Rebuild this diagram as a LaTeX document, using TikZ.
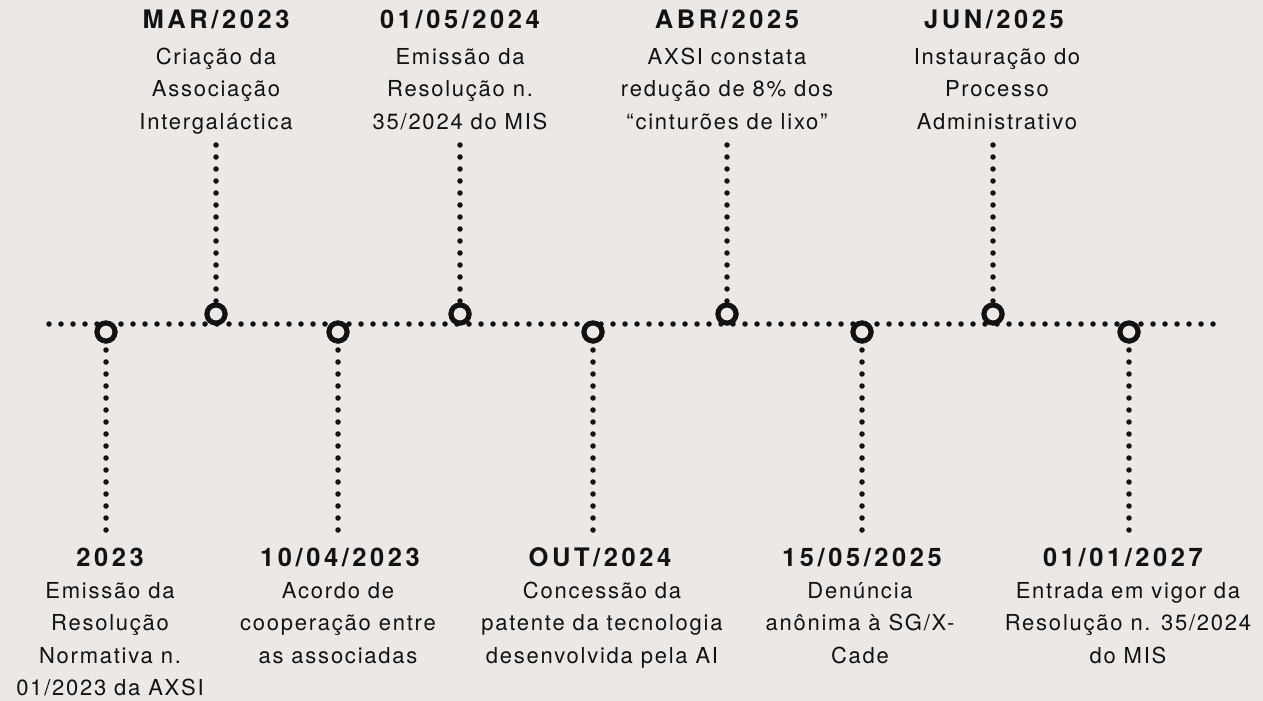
\documentclass[tikz,border=0pt]{standalone}
\usepackage{fontspec}
\setmainfont{TeX Gyre Heros}
\newfontfamily\titlefam[LetterSpace=14]{TeX Gyre Heros}
\newfontfamily\bodyfam[LetterSpace=8]{TeX Gyre Heros}
\definecolor{bg}{RGB}{235,232,230}
\definecolor{ink}{RGB}{18,18,18}
\begin{document}
\begin{tikzpicture}[x=1pt,y=-1pt,
  dotline/.style={draw=ink,line width=5.5pt,line cap=round,dash pattern=on 0pt off 12pt},
  ringnode/.style={circle,draw=ink,line width=5pt,fill=bg,minimum size=18pt,inner sep=0pt},
  titlenode/.style={anchor=base,inner sep=0pt,text=ink,font={\titlefam\bfseries\fontsize{25.5}{29}\selectfont}},
  bodynode/.style={anchor=north,inner sep=0pt,align=center,text=ink,font={\bodyfam\fontsize{22}{32.5}\selectfont}}]
\fill[bg] (0,0) rectangle (1263,701);
\useasboundingbox (0,0) rectangle (1263,701);
\newcommand{\bs}{\rule{0pt}{22pt}}
% main line
\coordinate (L) at (49,324);
\coordinate (R) at (1214,324);
\draw[dotline] (L) -- (R);
% end points of stems
\coordinate (e1) at (106,530);
\coordinate (e2) at (216,145);
\coordinate (e3) at (338,530);
\coordinate (e4) at (460,145);
\coordinate (e5) at (593,530);
\coordinate (e6) at (727,145);
\coordinate (e7) at (862,530);
\coordinate (e8) at (993,145);
\coordinate (e9) at (1129,530);
% circles
\node[ringnode] (c1) at (106,332) {};
\node[ringnode] (c2) at (216,314) {};
\node[ringnode] (c3) at (338,332) {};
\node[ringnode] (c4) at (460,314) {};
\node[ringnode] (c5) at (593,332) {};
\node[ringnode] (c6) at (727,314) {};
\node[ringnode] (c7) at (862,332) {};
\node[ringnode] (c8) at (993,314) {};
\node[ringnode] (c9) at (1129,332) {};
\foreach \i in {1,...,9} {\draw[dotline] (e\i) -- (c\i);}
\foreach \i in {1,...,9} {\node[ringnode] (r\i) at (c\i) {};}
% top labels
\node[titlenode] (t2) at (216,29) {MAR/2023};
\node[bodynode] (b2) at (216,42) {\bs Criação da\\Associação\\Intergaláctica};
\node[titlenode] (t4) at (460,29) {01/05/2024};
\node[bodynode] (b4) at (460,42) {\bs Emissão da\\Resolução n.\\35/2024 do MIS};
\node[titlenode] (t6) at (727,29) {ABR/2025};
\node[bodynode] (b6) at (727,42) {\bs AXSI constata\\redução de 8\% dos\\“cinturões de lixo”};
\node[titlenode] (t8) at (994,29) {JUN/2025};
\node[bodynode] (b8) at (997,42) {\bs Instauração do\\Processo\\Administrativo};
% bottom labels
\node[titlenode] (t1) at (110,566) {2023};
\node[bodynode] (b1) at (110,576) {\bs Emissão da\\Resolução\\Normativa n.\\01/2023 da AXSI};
\node[titlenode] (t3) at (340,566) {10/04/2023};
\node[bodynode] (b3) at (338,576) {\bs Acordo de\\cooperação entre\\as associadas};
\node[titlenode] (t5) at (600,566) {OUT/2024};
\node[bodynode] (b5) at (602,576) {\bs Concessão da\\patente da tecnologia\\desenvolvida pela AI};
\node[titlenode] (t7) at (862,566) {15/05/2025};
\node[bodynode] (b7) at (860,576) {\bs Denúncia\\anônima à SG/X-\\Cade};
\node[titlenode] (t9) at (1123,566) {01/01/2027};
\node[bodynode] (b9) at (1128,576) {\bs Entrada em vigor da\\Resolução n. 35/2024\\do MIS};
\end{tikzpicture}
\end{document}
